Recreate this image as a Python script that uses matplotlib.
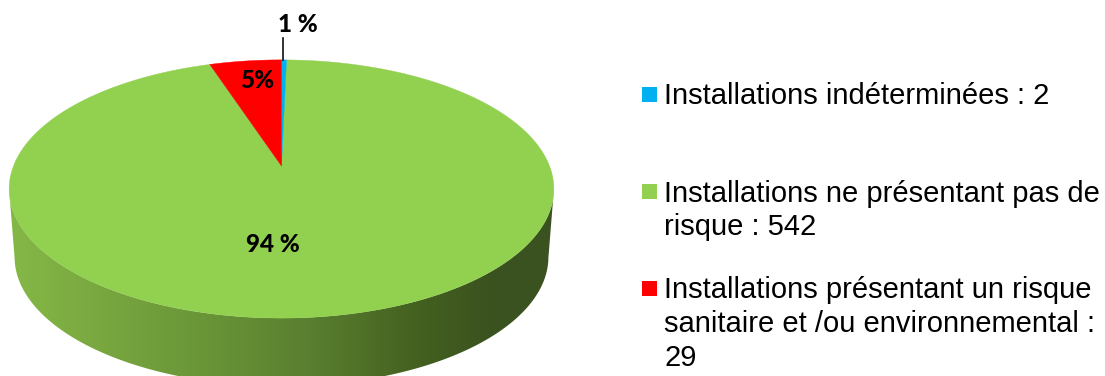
import numpy as np
from matplotlib import pyplot as plt
from matplotlib.colors import LinearSegmentedColormap
from matplotlib.patches import Polygon, Rectangle

# data
categories = ['Installations indéterminées : 2',
              'Installations ne présentant pas de\nrisque : 542',
              'Installations présentant un risque\nsanitaire et /ou environnemental :\n29']
values = [2, 542, 29]
pct_labels = ['1 %', '94 %', '5%']
colors = ['#00B0F0', '#92D050', '#FF0000']

# pie geometry in pixels, the tilt makes the pie centre sit above the ellipse centre
cx, cy = 281.5, 166
k = 0.178
a = 125
b = 268
depth = 68
shrink = 0.98

side_colors = ['#84B846', '#7CAC42', '#6A9638', '#5A7F30', '#44611F', '#3B5320', '#3A5120']
side_stops = [0.0, 0.12, 0.35, 0.55, 0.75, 0.88, 1.0]


# circle to tilted ellipse, theta is clockwise from the top
def project(theta, r=1.0):
    u = r * np.sin(theta)
    v = -r * np.cos(theta)
    d = 1 - k * v
    return cx + b * u / d, cy + a * v / d


fig = plt.figure(figsize=(11.05, 3.76), dpi=100)
ax = fig.add_axes([0, 0, 1, 1])
ax.set_xlim(0, 1105)
ax.set_ylim(376, 0)
ax.axis('off')

# side of the pie: lower half of a shifted ellipse joined to the top face
t = np.linspace(0, 2 * np.pi, 720)
x_top, y_top = project(t)
x_mid = (x_top.min() + x_top.max()) / 2
y_mid = (y_top.min() + y_top.max()) / 2
side_pts = []
for x0, y0 in zip(x_top, y_top):
    if y0 >= y_mid:
        side_pts.append((x0, y0))
side_pts = sorted(side_pts, key=lambda p: p[0])
low_pts = [(x_mid + (p[0] - x_mid) * shrink, p[1] + depth) for p in side_pts]
side_poly = Polygon(side_pts + low_pts[::-1], closed=True, transform=ax.transData, fc='none', ec='none')
ax.add_patch(side_poly)

cmap = LinearSegmentedColormap.from_list('side', list(zip(side_stops, side_colors)))
grad = np.linspace(0, 1, 512).reshape(1, -1)
im = ax.imshow(grad, cmap=cmap, aspect='auto', extent=(x_top.min(), x_top.max(), 400, 180), zorder=1)
im.set_clip_path(side_poly)
ax.set_xlim(0, 1105)
ax.set_ylim(376, 0)

# top face
angles = np.cumsum([0] + values) / sum(values) * 2 * np.pi
for i in range(len(values)):
    th = np.linspace(angles[i], angles[i + 1], 300)
    xs, ys = project(th)
    xs = np.r_[cx, xs]
    ys = np.r_[cy, ys]
    ax.fill(xs, ys, color=colors[i], lw=0.3, zorder=2 + (i != 1))

# data labels
ax.plot([283, 283], [38, 60], color='#111111', lw=1.2, zorder=5)
label_pos = [(298, 24), (273, 245), (257, 80)]
for lab, (lx, ly) in zip(pct_labels, label_pos):
    ax.text(lx, ly, lab, family='Lato', fontweight=900, fontsize=17.5, ha='center', va='center', color='black', zorder=6)

# legend
legend_y = [94, 191, 288]
for i, name in enumerate(categories):
    ax.add_patch(Rectangle((642, legend_y[i] - 7.5), 15, 15, fc=colors[i], ec='none'))
    ax.text(664, legend_y[i] - 11.5, name, family='Liberation Sans', fontsize=21, ha='left', va='top',
            linespacing=1.27, color='black')

fig.savefig('out.png', dpi=100)
